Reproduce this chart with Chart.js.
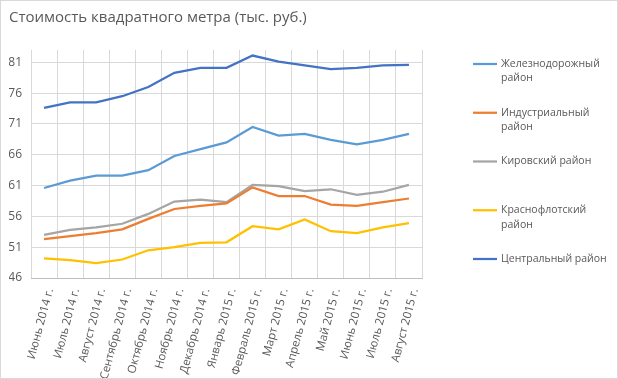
<!DOCTYPE html>
<html>
<head>
<meta charset="utf-8">
<script src="https://cdn.jsdelivr.net/npm/chart.js@4"></script>
<style>
html,body{margin:0;padding:0;background:#fff;}
#wrap{position:relative;width:618px;height:379px;}
</style>
</head>
<body>
<div id="wrap"><canvas id="c" width="618" height="379"></canvas></div>
<script>
const titleText = 'Стоимость квадратного метра (тыс. руб.)';
const categories = ['Июнь 2014 г.','Июль 2014 г.','Август 2014 г.','Сентябрь 2014 г.','Октябрь 2014 г.','Ноябрь 2014 г.','Декабрь 2014 г.','Январь 2015 г.','Февраль 2015 г.','Март 2015 г.','Апрель 2015 г.','Май 2015 г.','Июнь 2015 г.','Июль 2015 г.','Август 2015 г.'];
const yTicks = [46, 51, 56, 61, 66, 71, 76, 81];
const seriesNames = [['Железнодорожный','район'], ['Индустриальный','район'], ['Кировский район'], ['Краснофлотский','район'], ['Центральный район']];
const zheleznodorozhny = [60.6, 61.8, 62.6, 62.6, 63.5, 65.8, 66.9, 68.0, 70.5, 69.1, 69.4, 68.4, 67.7, 68.4, 69.4];
const industrialny     = [52.3, 52.8, 53.3, 53.9, 55.6, 57.2, 57.7, 58.1, 60.7, 59.3, 59.3, 57.9, 57.7, 58.3, 58.9];
const kirovsky         = [53.0, 53.8, 54.2, 54.8, 56.4, 58.4, 58.7, 58.3, 61.1, 60.9, 60.1, 60.4, 59.5, 60.0, 61.1];
const krasnoflotsky    = [49.2, 48.9, 48.4, 49.0, 50.5, 51.0, 51.7, 51.8, 54.4, 53.9, 55.5, 53.6, 53.3, 54.2, 54.9];
const centralny        = [73.6, 74.5, 74.5, 75.5, 77.0, 79.3, 80.1, 80.1, 82.1, 81.1, 80.5, 79.9, 80.1, 80.5, 80.6];
const seriesValues = [zheleznodorozhny, industrialny, kirovsky, krasnoflotsky, centralny];
const colors = ['#5B9BD5', '#ED7D31', '#A5A5A5', '#FFC000', '#4472C4'];

const FONT = '"Open Sans", "Noto Sans", sans-serif';
const TEXT = '#595959';

const customLegend = {
  id: 'customLegend',
  afterDraw(chart) {
    const ctx = chart.ctx;
    ctx.save();
    chart.data.datasets.forEach((ds, i) => {
      const y = 64 + i * 48.75;
      ctx.strokeStyle = ds.borderColor;
      ctx.lineWidth = 2.25;
      ctx.beginPath();
      ctx.moveTo(473, y);
      ctx.lineTo(497, y);
      ctx.stroke();
      ctx.fillStyle = TEXT;
      ctx.font = '10.5px ' + FONT;
      ctx.textBaseline = 'middle';
      ctx.textAlign = 'left';
      seriesNames[i].forEach((line, j) => ctx.fillText(line, 501, y + j * 14.5));
    });
    ctx.strokeStyle = '#d9d9d9';
    ctx.lineWidth = 1;
    ctx.strokeRect(0.5, 0.5, 617, 378);
    ctx.restore();
  }
};

new Chart(document.getElementById('c'), {
  type: 'line',
  data: {
    labels: categories,
    datasets: seriesValues.map((vals, i) => ({
      label: seriesNames[i].join(' '),
      data: vals,
      borderColor: colors[i],
      backgroundColor: colors[i],
      borderWidth: 2.25,
      pointRadius: 0,
      tension: 0,
      fill: false
    }))
  },
  options: {
    responsive: false,
    animation: false,
    layout: { padding: { left: 9, right: 196, top: 0, bottom: 0 } },
    plugins: {
      legend: { display: false },
      tooltip: { enabled: false },
      title: {
        display: true,
        text: titleText,
        align: 'start',
        color: TEXT,
        font: { family: FONT, size: 15, weight: 'normal' },
        padding: { top: 9, bottom: 23 }
      }
    },
    scales: {
      x: {
        offset: true,
        grid: { offset: true, color: '#d9d9d9', drawTicks: false },
        border: { color: '#bfbfbf' },
        ticks: {
          autoSkip: false,
          minRotation: 75,
          maxRotation: 75,
          padding: 9,
          labelOffset: 6,
          color: TEXT,
          font: { family: FONT, size: 11.5 }
        },
        afterFit(scale) { scale.height = 101; }
      },
      y: {
        min: 46,
        max: 83,
        afterBuildTicks(scale) { scale.ticks = yTicks.map(v => ({ value: v })); },
        grid: { color: '#d9d9d9', drawTicks: false },
        border: { display: false },
        ticks: {
          padding: 9,
          color: TEXT,
          font: { family: FONT, size: 12 }
        },
        afterFit(scale) { scale.width = 22; }
      }
    }
  },
  plugins: [customLegend]
});
</script>
</body>
</html>
